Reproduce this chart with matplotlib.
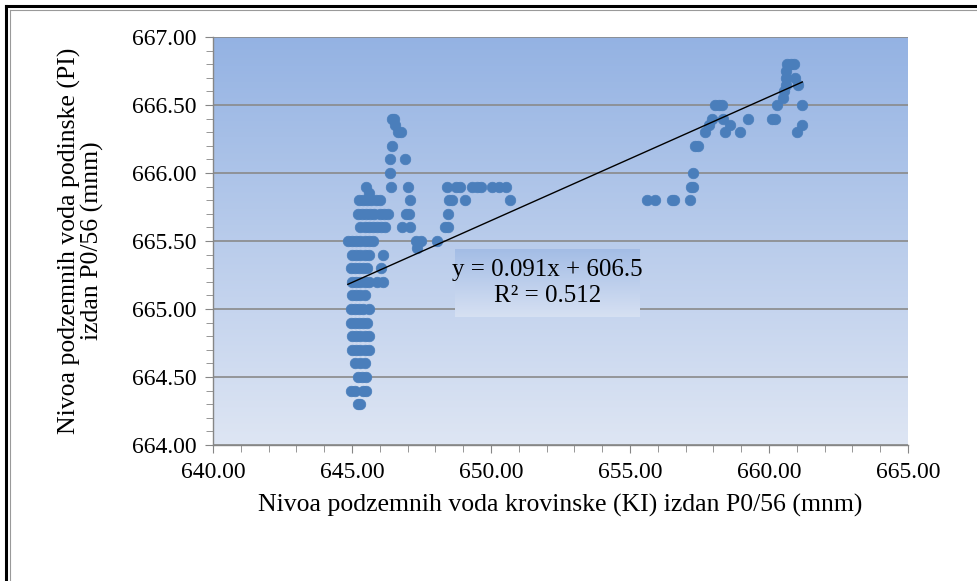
import numpy as np
import matplotlib
matplotlib.use('Agg')
import matplotlib.pyplot as plt
from matplotlib.lines import Line2D
from matplotlib.ticker import MultipleLocator, FormatStrFormatter

plt.rcParams['font.family'] = ['Liberation Serif', 'DejaVu Serif']

# KI level (x) and PI level (y), grouped by cluster
# column near 645
x_a = [645.2, 645.3,
       644.95, 645.1, 645.4, 645.5,
       645.2, 645.35, 645.5,
       645.1, 645.3, 645.45,
       645.0, 645.15, 645.3, 645.45, 645.6,
       645.0, 645.15, 645.3, 645.45, 645.6,
       644.95, 645.1, 645.25, 645.4, 645.55,
       644.95, 645.1, 645.25, 645.4, 645.6,
       645.0, 645.15, 645.3, 645.45,
       645.0, 645.15, 645.3, 645.45, 645.6, 645.9, 646.1,
       644.95, 645.1, 645.25, 645.4, 645.55, 646.05,
       645.0, 645.15, 645.3, 645.45, 645.6, 646.1,
       644.85, 645.0, 645.15, 645.3, 645.45, 645.6, 645.75,
       645.3, 645.45, 645.6, 645.75, 645.9, 646.05, 646.2,
       645.2, 645.35, 645.5, 645.65, 645.8, 646.0, 646.15, 646.3,
       645.25, 645.4, 645.55, 645.7, 645.85, 646.0,
       645.5, 645.6]
y_a = [664.3, 664.3,
       664.4, 664.4, 664.4, 664.4,
       664.5, 664.5, 664.5,
       664.6, 664.6, 664.6,
       664.7, 664.7, 664.7, 664.7, 664.7,
       664.8, 664.8, 664.8, 664.8, 664.8,
       664.9, 664.9, 664.9, 664.9, 664.9,
       665.0, 665.0, 665.0, 665.0, 665.0,
       665.1, 665.1, 665.1, 665.1,
       665.2, 665.2, 665.2, 665.2, 665.2, 665.2, 665.2,
       665.3, 665.3, 665.3, 665.3, 665.3, 665.3,
       665.4, 665.4, 665.4, 665.4, 665.4, 665.4,
       665.5, 665.5, 665.5, 665.5, 665.5, 665.5, 665.5,
       665.6, 665.6, 665.6, 665.6, 665.6, 665.6, 665.6,
       665.7, 665.7, 665.7, 665.7, 665.7, 665.7, 665.7, 665.7,
       665.8, 665.8, 665.8, 665.8, 665.8, 665.8,
       665.9, 665.85]

# 646.3 - 648.1
x_b = [646.45, 646.5, 646.55, 646.65, 646.75, 646.45, 646.35, 646.9, 646.35,
       646.4, 647.0, 647.1, 646.95, 647.05, 646.8, 647.1,
       647.3, 647.5, 648.05, 647.35]
y_b = [666.4, 666.4, 666.35, 666.3, 666.3, 666.2, 666.1, 666.1, 666.0,
       665.9, 665.9, 665.8, 665.7, 665.7, 665.6, 665.6,
       665.5, 665.5, 665.5, 665.45]

# 648.4 - 650.7
x_c = [648.4, 648.75, 648.9, 649.3, 649.5, 649.65, 650.05, 650.3, 650.55,
       648.5, 648.6, 649.05, 650.7, 648.45, 648.35, 648.45]
y_c = [665.9, 665.9, 665.9, 665.9, 665.9, 665.9, 665.9, 665.9, 665.9,
       665.8, 665.8, 665.8, 665.8, 665.7, 665.6, 665.6]

# 655.5 - 658
x_d = [655.6, 655.9, 656.5, 656.6, 657.15, 657.2, 657.25, 657.25,
       657.35, 657.45, 657.7, 657.85, 657.95]
y_d = [665.8, 665.8, 665.8, 665.8, 665.8, 665.9, 665.9, 666.0,
       666.2, 666.2, 666.3, 666.35, 666.4]

# 658 - 661.2
x_e = [658.05, 658.2, 658.3, 660.3, 661.2,
       658.35, 659.25, 660.1, 660.2,
       658.6, 661.2, 658.4, 658.95, 661.0,
       660.5, 660.55, 660.6, 661.05, 660.6, 660.95, 660.6,
       660.65, 660.8, 660.9]
y_e = [666.5, 666.5, 666.5, 666.5, 666.5,
       666.4, 666.4, 666.4, 666.4,
       666.35, 666.35, 666.3, 666.3, 666.3,
       666.55, 666.6, 666.65, 666.65, 666.7, 666.7, 666.75,
       666.8, 666.8, 666.8]

x_ki = np.array(x_a + x_b + x_c + x_d + x_e)
y_pi = np.array(y_a + y_b + y_c + y_d + y_e)

# linear trend as printed on the chart
slope = 0.091
intercept = 606.5
r2 = 0.512

fig = plt.figure(figsize=(9.78, 5.81), dpi=100)
ax = fig.add_axes([213/978, 1-445/581, 695/978, 408/581])

# gradient background of the plot area
grad = np.linspace(0, 1, 256).reshape(-1, 1)
top_c = np.array([0.58, 0.70, 0.89])
bot_c = np.array([0.87, 0.90, 0.955])
bg = top_c + (bot_c - top_c) * grad[:, :, None]
ax.imshow(bg, extent=[0, 1, 0, 1], transform=ax.transAxes, aspect='auto', zorder=0)

ax.set_axisbelow(True)
ax.grid(axis='y', which='major', color='#8a8a8a', lw=1.2)
ax.grid(axis='x', which='both', visible=False)

ax.scatter(x_ki, y_pi, s=58, color='#4a7ebb', edgecolors='#4a7ebb', linewidths=0.5, zorder=3)

xt = np.array([x_ki.min(), x_ki.max()])
ax.plot(xt, slope * xt + intercept, color='black', lw=1.0, zorder=4)

ax.set_xlim(640, 665)
ax.set_ylim(664, 667)
ax.xaxis.set_major_locator(MultipleLocator(5))
ax.xaxis.set_minor_locator(MultipleLocator(1))
ax.yaxis.set_major_locator(MultipleLocator(0.5))
ax.yaxis.set_minor_locator(MultipleLocator(0.1))
ax.xaxis.set_major_formatter(FormatStrFormatter('%.2f'))
ax.yaxis.set_major_formatter(FormatStrFormatter('%.2f'))

for s in ['top', 'right']:
    ax.spines[s].set_visible(False)
for s in ['left', 'bottom']:
    ax.spines[s].set_color('#868686')
    ax.spines[s].set_linewidth(1.0)
ax.tick_params(which='major', direction='out', length=6, color='#868686', labelsize=17, pad=6)
ax.tick_params(which='minor', direction='out', length=5, color='#868686')

ax.set_xlabel('Nivoa podzemnih voda krovinske (KI) izdan P0/56 (mnm)', fontsize=18.5, labelpad=8)
ax.set_ylabel('Nivoa podzemnih voda podinske (PI)\nizdan P0/56 (mnm)', fontsize=18.5,
              labelpad=20, linespacing=1.0)

# equation box
bx0, bx1, by0, by1 = 0.348, 0.614, 0.314, 0.48
box_top = np.array([0.64, 0.74, 0.90])
box_bot = np.array([0.84, 0.88, 0.95])
box = box_top + (box_bot - box_top) * grad[:, :, None]
ax.imshow(box, extent=[bx0, bx1, by0, by1], transform=ax.transAxes, aspect='auto', zorder=5)
ax.text((bx0 + bx1) / 2, (by0 + by1) / 2,
        'y = %.3fx + %.1f\nR² = %.3f' % (slope, intercept, r2),
        transform=ax.transAxes, ha='center', va='center', fontsize=18,
        linespacing=1.25, zorder=6)
ax.set_xlim(640, 665)
ax.set_ylim(664, 667)

# outer frame (black + thin gray), as in the source
fig.add_artist(Line2D([6/978, 1], [1-6/581, 1-6/581], color='black', lw=2.2))
fig.add_artist(Line2D([6/978, 6/978], [0, 1-6/581], color='black', lw=2.2))
fig.add_artist(Line2D([10/978, 1], [1-10/581, 1-10/581], color='#9a9a9a', lw=0.8))
fig.add_artist(Line2D([10/978, 10/978], [0, 1-10/581], color='#9a9a9a', lw=0.8))

fig.savefig('out.png', dpi=100)
